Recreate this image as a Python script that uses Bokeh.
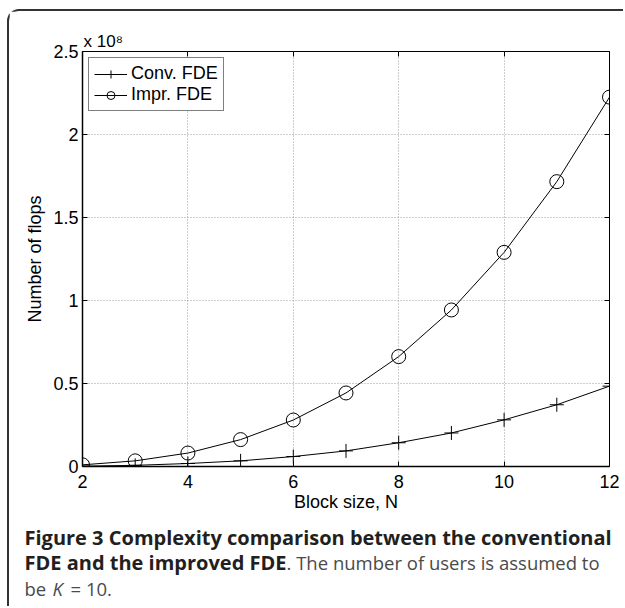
from bokeh.plotting import figure
from bokeh.layouts import column
from bokeh.models import (Range1d, FixedTicker, CustomJSTickFormatter, LinearAxis, Label)
from bokeh.embed import file_html
from bokeh.resources import INLINE

# ---- data (number of flops, in units of 1e8) ----
block_size = [2, 3, 4, 5, 6, 7, 8, 9, 10, 11, 12]
conv_fde = [0.002, 0.007, 0.018, 0.034, 0.060, 0.094, 0.143, 0.202, 0.281, 0.372, 0.484]
impr_fde = [0.010, 0.034, 0.081, 0.162, 0.280, 0.443, 0.662, 0.943, 1.290, 1.716, 2.225]
x_ticks = [2, 4, 6, 8, 10, 12]
y_ticks = [0, 0.5, 1, 1.5, 2, 2.5]

FONT = "Liberation Sans"
CAP_FONT = "Open Sans"

p = figure(width=614, height=509, output_backend="svg", toolbar_location=None,
           x_range=Range1d(2, 12), y_range=Range1d(0, 2.5), title="x 10\u2078",
           min_border_left=73, min_border_right=14, min_border_top=40, min_border_bottom=54)
p.outline_line_color = "black"
p.outline_line_width = 1
p.title.text_font = FONT
p.title.text_font_size = "17px"
p.title.text_font_style = "normal"
p.title.text_color = "black"
p.title.align = "left"
p.title.offset = 1
p.title.standoff = 2

fmt = CustomJSTickFormatter(code="return String(Math.round(tick*10)/10);")
for ax, ticks in ((p.xaxis[0], x_ticks), (p.yaxis[0], y_ticks)):
    ax.ticker = FixedTicker(ticks=ticks)
    ax.formatter = fmt
    ax.major_tick_in = 5
    ax.major_tick_out = 0
    ax.minor_tick_line_color = None
    ax.axis_line_width = 1.5
    ax.axis_line_color = "black"
    ax.major_tick_line_color = "black"
    ax.major_label_text_font = FONT
    ax.major_label_text_font_size = "18px"
    ax.major_label_text_color = "black"
    ax.axis_label_text_font = FONT
    ax.axis_label_text_font_size = "18px"
    ax.axis_label_text_font_style = "normal"
    ax.axis_label_text_color = "black"
p.xaxis.axis_label = "Block size, N"
p.yaxis.axis_label = "Number of flops"
p.xaxis.major_label_standoff = 8
p.xaxis.axis_label_standoff = 1
p.yaxis.major_label_standoff = 4
p.yaxis.axis_label_standoff = 5

# box ticks on the right and top (MATLAB style, pointing inwards)
empty = CustomJSTickFormatter(code="return '';")
for loc, ticks in (("right", y_ticks), ("above", x_ticks)):
    bax = LinearAxis(ticker=FixedTicker(ticks=ticks), formatter=empty,
                     major_tick_in=5, major_tick_out=0, minor_tick_line_color=None,
                     axis_line_color=None, major_label_standoff=0,
                     major_tick_line_color="black")
    p.add_layout(bax, loc)

for g in (p.xgrid[0], p.ygrid[0]):
    g.grid_line_color = "#9a9a9a"
    g.grid_line_dash = "1 2"
    g.grid_line_width = 1
p.xgrid.ticker = FixedTicker(ticks=x_ticks)
p.ygrid.ticker = FixedTicker(ticks=y_ticks)

p.line(block_size, conv_fde, line_color="black", line_width=1, legend_label="Conv. FDE")
p.scatter(block_size, conv_fde, marker="cross", size=14, line_color="black",
          line_width=1, legend_label="Conv. FDE")
p.line(block_size, impr_fde, line_color="black", line_width=1, legend_label="Impr. FDE")
p.scatter(block_size, impr_fde, marker="circle", size=14, line_color="black",
          fill_color=None, line_width=1, legend_label="Impr. FDE")

lg = p.legend[0]
lg.location = "top_left"
lg.margin = 6
lg.padding = 5
lg.spacing = 0
lg.label_standoff = 4
lg.glyph_width = 33
lg.glyph_height = 20
lg.label_height = 20
lg.label_text_font = FONT
lg.label_text_font_size = "18px"
lg.label_text_color = "black"
lg.border_line_color = "black"
lg.border_line_width = 1
lg.background_fill_alpha = 1

# ---- caption panel ----
CAP_W, CAP_H = 614, 86
cap = figure(width=CAP_W, height=CAP_H, output_backend="svg", toolbar_location=None,
             x_range=Range1d(0, CAP_W), y_range=Range1d(CAP_H, 0),
             x_axis_type=None, y_axis_type=None, min_border=0,
             min_border_left=0, min_border_right=0, min_border_top=0, min_border_bottom=0)
if "frame_align" in cap.properties():
    cap.frame_align = False
cap.outline_line_color = None
cap.grid.visible = False

BOLD_C = "#231f20"
NORM_C = "#4a4a4a"
caption = [
    (15, 17, "Figure 3 Complexity comparison between the conventional", "bold", BOLD_C, "20px"),
    (15, 42, "FDE and the improved FDE", "bold", BOLD_C, "20px"),
    (277, 42, ". The number of users is assumed to", "normal", NORM_C, "18.5px"),
    (15, 68, "be", "normal", NORM_C, "18.5px"),
    (43, 68, "K", "italic", NORM_C, "18.5px"),
    (61, 68, "= 10.", "normal", NORM_C, "18.5px"),
]
for x, y, t, st, c, fs in caption:
    cap.add_layout(Label(x=x, y=y, text=t, text_font=CAP_FONT, text_font_size=fs,
                         text_font_style=st, text_color=c, text_baseline="alphabetic"))

layout = column(p, cap, spacing=0, margin=(9, 0, 0, 7),
                styles={"border-left": "2px solid #333333",
                        "border-top": "2px solid #333333",
                        "border-top-left-radius": "12px"})

open("out.html", "w").write(file_html(layout, INLINE))
